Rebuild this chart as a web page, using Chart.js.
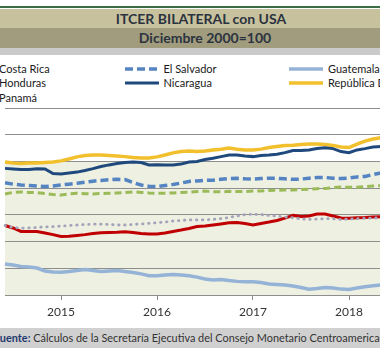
<!DOCTYPE html>
<html><head><meta charset="utf-8">
<script src="https://cdn.jsdelivr.net/npm/chart.js@4.4.1/dist/chart.umd.min.js"></script>
<style>
html,body{margin:0;padding:0;width:380px;height:362px;overflow:hidden;background:#fff;font-family:Lato,"Liberation Sans",sans-serif;}
#wrap{position:relative;width:380px;height:362px;overflow:hidden;}
.band{position:absolute;left:0;width:380px;}
#gline{top:6px;height:2px;background:#3b6e46;}
#t1{top:9px;height:19px;background:#c8c19d;}
#t2{top:28px;height:20px;background:#a19c7d;}
#t3{top:48px;height:7px;background:#cacaca;}
.ttl{position:absolute;left:0;text-align:center;font-weight:bold;font-size:14px;color:#2b3340;white-space:nowrap;}
#ttl1{top:9px;width:402px;line-height:19px;}
#ttl2{top:28px;width:410px;line-height:20px;}
#legend{position:absolute;left:0;top:0;width:380px;height:110px;}
.li{position:absolute;font-size:11px;color:#1a1a1a;white-space:nowrap;line-height:14px;}
.sw{position:absolute;}
#chartBox{position:absolute;left:0;top:100px;}
#foot{position:absolute;left:0;top:328px;width:380px;height:20px;background:#d0d0d0;}
#foot div{position:absolute;left:-6px;top:0;line-height:20px;font-size:10.9px;color:#333;white-space:nowrap;}
#foot b{color:#1f3a6e;}
</style>
</head><body>
<div id="wrap">
  <div id="gline" class="band"></div>
  <div id="t1" class="band"></div>
  <div id="t2" class="band"></div>
  <div id="t3" class="band"></div>
  <div id="ttl1" class="ttl">ITCER BILATERAL con USA</div>
  <div id="ttl2" class="ttl">Diciembre 2000=100</div>
  <div id="legend"></div>
  <div id="chartBox"><canvas id="c" width="386" height="230"></canvas></div>
  <div id="foot"><div><b>Fuente:</b> Cálculos de la Secretaría Ejecutiva del Consejo Monetario Centroamericano</div></div>
</div>
<script>
const months = [
 "2014-06","2014-07","2014-08","2014-09","2014-10","2014-11","2014-12",
 "2015-01","2015-02","2015-03","2015-04","2015-05","2015-06","2015-07","2015-08","2015-09","2015-10","2015-11","2015-12",
 "2016-01","2016-02","2016-03","2016-04","2016-05","2016-06","2016-07","2016-08","2016-09","2016-10","2016-11","2016-12",
 "2017-01","2017-02","2017-03","2017-04","2017-05","2017-06","2017-07","2017-08","2017-09","2017-10","2017-11","2017-12",
 "2018-01","2018-02","2018-03","2018-04","2018-05"
];
const costaRica = [86.0,85.1,83.8,83.8,83.8,83.2,82.6,81.9,82.0,82.3,82.6,83.0,83.3,83.4,83.5,83.7,83.4,83.0,82.8,82.8,83.2,83.8,84.3,84.9,85.6,85.8,86.2,86.6,87.0,87.1,86.8,86.2,86.8,87.3,87.9,88.8,89.8,89.4,89.6,90.3,90.3,89.6,88.8,88.7,88.9,89.0,89.2,89.3];
const elSalvador = [102.0,101.5,101.2,101.0,100.8,100.6,100.8,101.2,101.5,101.8,102.2,102.6,102.9,103.2,103.3,103.2,102.1,101.2,100.7,100.6,101.0,101.4,101.9,102.5,102.7,102.9,103.0,103.3,103.6,103.7,103.5,103.4,103.6,103.7,103.7,103.5,103.3,103.4,103.7,104.0,104.0,103.7,103.6,103.8,104.2,104.4,105.1,105.7];
const guatemala = [71.6,71.2,70.7,70.5,70.1,69.0,68.6,68.5,68.8,69.2,69.5,69.2,68.8,69.0,69.2,68.8,68.4,67.9,67.2,67.2,67.5,67.7,67.5,67.2,66.7,66.0,65.6,65.8,65.4,65.1,65.0,65.0,64.7,64.1,63.9,63.7,63.4,62.8,62.2,62.4,62.8,62.6,62.2,62.1,62.6,63.1,63.5,63.7];
const honduras = [97.8,98.4,98.6,98.4,98.3,98.0,97.6,97.4,97.8,98.1,97.9,97.8,98.0,98.1,98.2,98.4,98.6,98.4,98.2,98.1,98.1,98.2,98.4,98.5,98.7,98.9,98.7,98.6,98.8,98.7,98.7,98.9,98.9,99.1,99.2,99.3,99.3,99.5,99.6,99.8,99.9,100.2,100.4,100.3,100.3,100.6,100.8,100.9];
const nicaragua = [107.4,107.2,107.0,107.0,107.3,107.2,105.5,105.3,105.7,106.0,106.6,107.3,108.1,108.7,109.2,109.6,109.8,109.6,108.7,108.8,108.7,108.7,109.0,109.8,110.0,110.7,111.2,111.8,112.4,112.4,112.0,111.8,112.2,112.4,112.7,113.3,114.1,114.1,114.3,114.8,115.1,114.8,113.7,113.3,114.3,114.8,115.4,115.6];
const repDominicana = [109.8,109.4,109.2,109.4,109.4,109.6,109.8,110.2,110.9,111.7,112.2,112.4,112.4,112.2,112.0,111.8,111.5,111.3,111.3,111.7,112.4,113.2,113.7,113.9,113.7,113.9,114.3,114.6,115.0,114.6,114.3,114.3,114.6,115.2,115.6,116.0,116.1,116.3,116.5,116.5,116.3,116.0,115.4,115.2,116.5,117.6,118.4,118.9];
const panama = [86.0,85.3,85.0,85.1,85.3,85.5,85.6,85.8,86.0,86.2,86.4,86.5,86.5,86.4,86.2,86.2,86.4,86.6,86.8,87.1,87.3,87.7,87.9,88.1,88.1,88.1,88.3,88.6,89.0,89.6,90.1,90.2,90.1,89.8,89.5,89.2,88.9,88.5,88.3,88.4,88.6,88.5,88.3,88.4,88.6,88.7,88.8,88.9];
const yMin = 60, yMax = 130, yStep = 10;
const shadeFrom = 110;

const GRID = '#8e8e8e';
const datasets = [
  {label:'Costa Rica', data:costaRica, borderColor:'#c00000', borderWidth:3, order:2},
  {label:'El Salvador', data:elSalvador, borderColor:'#5584c2', borderWidth:3.5, borderDash:[8,4], order:2},
  {label:'Guatemala', data:guatemala, borderColor:'#95b3d7', borderWidth:3.5, order:2},
  {label:'Honduras', data:honduras, borderColor:'#9bbb59', borderWidth:3, borderDash:[7,4], order:2},
  {label:'Nicaragua', data:nicaragua, borderColor:'#1f497d', borderWidth:3, order:2},
  {label:'República Dominicana', data:repDominicana, borderColor:'#f2c02c', borderWidth:3.5, order:2},
  {label:'Panamá', data:panama, borderColor:'#a3a3ba', borderWidth:2.8, borderDash:[0.5,5.5], borderCapStyle:'round', order:1}
];
datasets.forEach(d => { d.pointRadius = 0; d.fill = false; d.tension = 0; });

const shadePlugin = {
  id:'shade',
  beforeDraw(chart){
    const {ctx, chartArea:a, scales:{y}} = chart;
    const top = y.getPixelForValue(shadeFrom), bot = y.getPixelForValue(yMin);
    ctx.save(); ctx.fillStyle = '#eef0e2';
    ctx.fillRect(a.left, top, a.right - a.left, bot - top);
    ctx.restore();
  }
};

const isJan = (lbl) => typeof lbl === 'string' && lbl.endsWith('-01');

const chart = new Chart(document.getElementById('c'), {
  type:'line',
  data:{labels:months, datasets},
  plugins:[shadePlugin],
  options:{
    responsive:false, animation:false,
    layout:{padding:{top:8,left:0,right:0,bottom:0}},
    plugins:{legend:{display:false}, tooltip:{enabled:false}},
    scales:{
      x:{
        offset:false,
        grid:{drawOnChartArea:false, drawTicks:true, tickLength:5,
          tickColor:(ctx)=> isJan(months[ctx.index]) ? GRID : 'rgba(0,0,0,0)',
          color:(ctx)=> isJan(months[ctx.index]) ? GRID : 'rgba(0,0,0,0)'},
        border:{display:true, color:GRID, width:1},
        ticks:{autoSkip:false, maxRotation:0, minRotation:0, padding:5, color:'#333',
          font:{family:'Lato', size:12},
          callback:function(v){ const l = this.getLabelForValue(v); return isJan(l) ? l.slice(0,4) : ''; }},
        afterFit:(s)=>{ s.height = 35; }
      },
      y:{
        min:yMin, max:yMax,
        ticks:{display:false, stepSize:yStep},
        grid:{color:GRID, drawTicks:false, lineWidth:1},
        border:{display:false},
        afterFit:(s)=>{ s.width = 0; }
      }
    }
  }
});

// HTML legend built from chart datasets (Excel-style 3-column grid)
const legend = document.getElementById('legend');
chart.data.datasets.forEach((ds, i) => {
  const col = i % 3, row = Math.floor(i / 3);
  const tx = -1 + col * 164.5;
  const cy = 68.5 + row * 14.7;
  const sw = document.createElementNS('http://www.w3.org/2000/svg','svg');
  sw.setAttribute('width','34'); sw.setAttribute('height','6');
  sw.setAttribute('class','sw');
  sw.style.left = (tx - 39) + 'px'; sw.style.top = (cy - 3) + 'px';
  const ln = document.createElementNS('http://www.w3.org/2000/svg','line');
  ln.setAttribute('x1','0'); ln.setAttribute('x2','34'); ln.setAttribute('y1','3'); ln.setAttribute('y2','3');
  ln.setAttribute('stroke', ds.borderColor);
  ln.setAttribute('stroke-width', ds.borderWidth);
  if (ds.borderDash) ln.setAttribute('stroke-dasharray', ds.borderDash.join(','));
  if (ds.borderCapStyle) ln.setAttribute('stroke-linecap', ds.borderCapStyle);
  sw.appendChild(ln);
  legend.appendChild(sw);
  const t = document.createElement('div');
  t.className = 'li'; t.textContent = ds.label;
  t.style.left = tx + 'px'; t.style.top = (cy - 7) + 'px';
  legend.appendChild(t);
});
</script>
</body></html>
